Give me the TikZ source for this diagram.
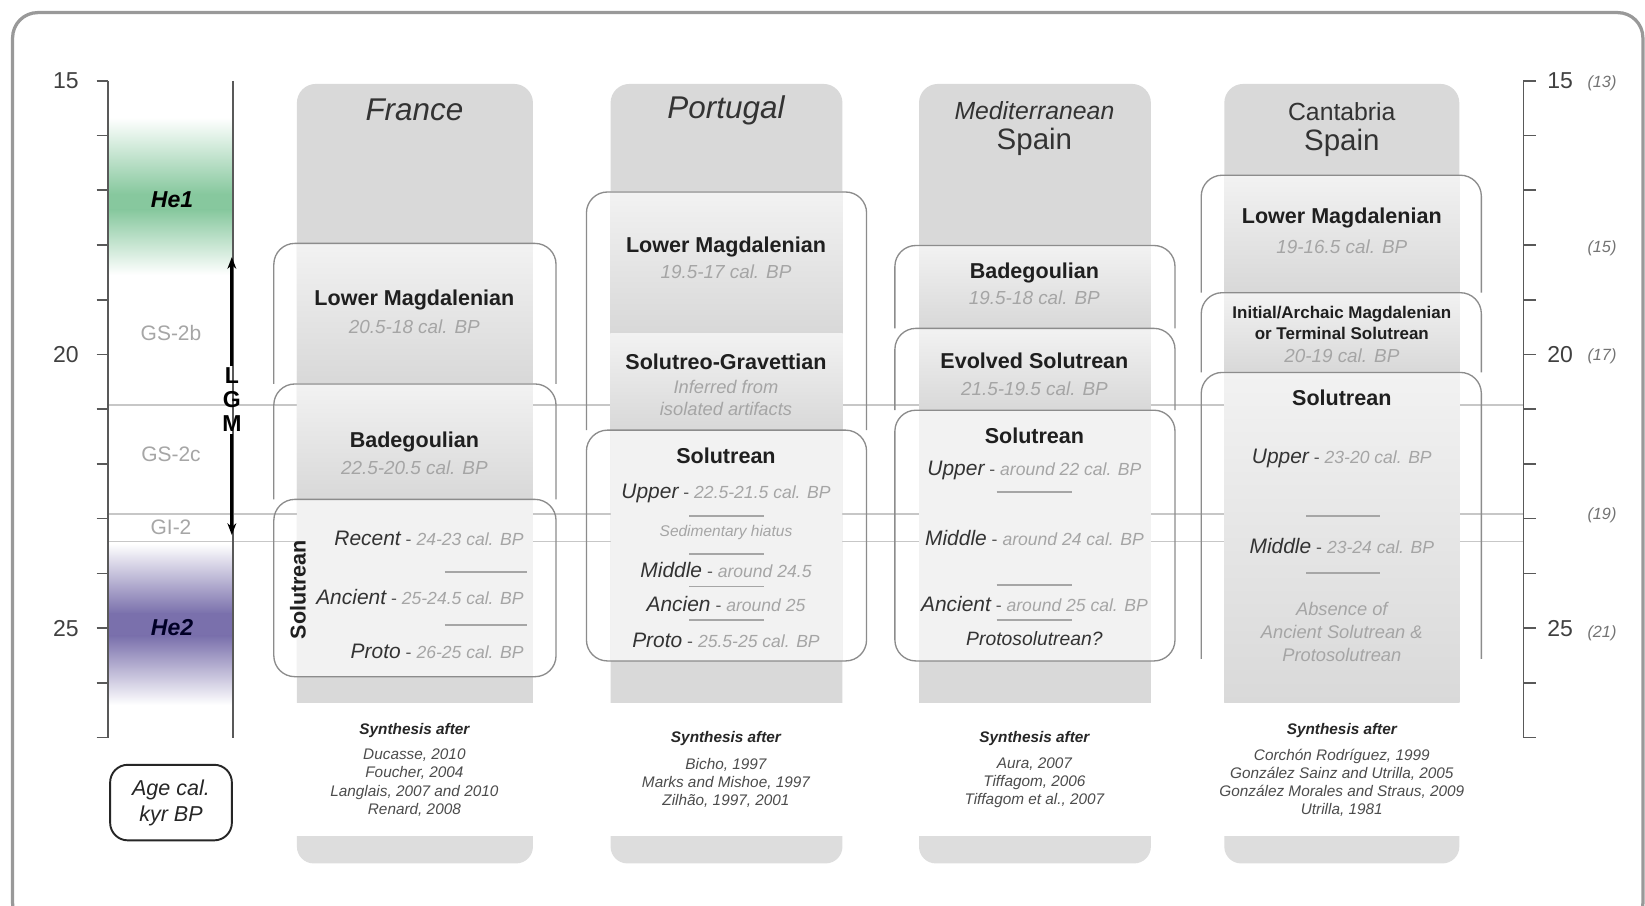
\documentclass[tikz,border=0pt]{standalone}
\usepackage{fontspec}
\setmainfont{Liberation Sans}
\usetikzlibrary{arrows.meta}
\definecolor{colgray}{RGB}{217,217,217}
\definecolor{boxlight}{RGB}{242,242,242}
\definecolor{boxdark}{RGB}{216,216,216}
\definecolor{outl}{RGB}{140,140,140}
\definecolor{datec}{RGB}{165,165,165}
\definecolor{hgreen}{RGB}{135,200,158}
\definecolor{hpurple}{RGB}{122,112,172}
\newcommand{\myfs}[2]{\fontsize{#1pt}{#2pt}\selectfont}
\newcommand{\sublab}[2]{{\itshape\myfs{14.2}{16}\color{black!80}#1}{\myfs{12}{14}\color{black!65}\ -\ }{\itshape\myfs{11.9}{14}\color{datec}#2}}
\newcommand{\colbg}[2]{%
 \begin{scope}\clip (#1,80) rectangle (#2,670);
 \fill[colgray, rounded corners=0.45cm] (#1,80) rectangle (#2,720);\end{scope}
 \begin{scope}\clip (#1,797) rectangle (#2,823);
 \fill[colgray!90!white, rounded corners=0.4cm] (#1,760) rectangle (#2,823);\end{scope}}
\begin{document}
\begin{tikzpicture}[x=0.025cm,y=-0.025cm,
  hd/.style={font=\bfseries\myfs{14.6}{17}, text=black!88},
  hdsmall/.style={font=\bfseries\myfs{11.5}{14}, text=black!88},
  dt/.style={font=\itshape\myfs{12.8}{15}, text=datec},
  ttl/.style={font=\itshape\myfs{21.3}{24}, text=black!80},
  outline/.style={draw=outl, line width=0.9pt, rounded corners=0.5cm},
  sep/.style={draw=black!35, line width=1.3pt},
  refs/.style={align=center, font=\itshape\myfs{10.4}{12.3}, text=black!70},
  synth/.style={font=\bfseries\itshape\myfs{10.4}{12}, text=black!85},
  gs/.style={font=\myfs{14.2}{16}, text=black!35},
  he/.style={font=\bfseries\itshape\myfs{15.6}{18}},
  ax/.style={draw=black!65, line width=1.1pt},
  hl/.style={draw=black!22, line width=0.9pt},
  axlab/.style={font=\myfs{15.6}{18}, text=black!75},
  c14/.style={font=\itshape\myfs{11}{13}, text=black!55},
  lgm/.style={font=\bfseries\myfs{15.6}{16}, inner sep=1pt},
  greytxt/.style={font=\itshape\myfs{12.4}{15}, text=datec},
]
\useasboundingbox (0,0) rectangle (1568,863);
\clip (0,0) rectangle (1568,863);
\fill[white] (0,0) rectangle (1568,863);
% frame
\draw[black!40, line width=2.2pt, rounded corners=0.6cm] (12,12) rectangle (1566,885);

% climate bands
\shade[top color=white, bottom color=hgreen] (104,112) rectangle (221,185);
\fill[hgreen] (104,184.5) rectangle (221,200.5);
\shade[top color=hgreen, bottom color=white] (104,200) rectangle (221,262);
\shade[top color=white, bottom color=hpurple] (104,518) rectangle (221,585);
\fill[hpurple] (104,584.5) rectangle (221,606.5);
\shade[top color=hpurple, bottom color=white] (104,606) rectangle (221,672);

% horizontal boundaries
\draw[hl] (103,386) -- (1452,386);
\draw[hl] (103,490) -- (1452,490);
\draw[hl] (103,516) -- (1452,516);

% left axis
\draw[ax] (103,77) -- (103,703);
\foreach \k in {0,...,12} \draw[ax] (92,{77+52.17*\k}) -- (103,{77+52.17*\k});
\node[axlab, anchor=east] (l15) at (80,77) {15};
\node[axlab, anchor=east] (l20) at (80,338) {20};
\node[axlab, anchor=east] (l25) at (80,599) {25};
% LGM line
\draw[ax] (222,77) -- (222,703);

% right axis
\draw[ax] (1452,77) -- (1452,703);
\foreach \k in {0,...,12} \draw[ax] (1452,{77+52.17*\k}) -- (1464,{77+52.17*\k});
\node[axlab, anchor=west] (r15) at (1470,77) {15};
\node[axlab, anchor=west] (r20) at (1470,338) {20};
\node[axlab, anchor=west] (r25) at (1470,599) {25};
\node[c14] (c13) at (1527,79) {(13)};
\node[c14] (c15) at (1527,237) {(15)};
\node[c14] (c17) at (1527,340) {(17)};
\node[c14] (c19) at (1527,491) {(19)};
\node[c14] (c21) at (1527,604) {(21)};

% climate labels
\node[he, text=black] (he1) at (164,190) {He1};
\node[gs] (gs2b) at (163,317) {GS-2b};
\node[gs] (gs2c) at (163,433) {GS-2c};
\node[gs] (gi2) at (163,503) {GI-2};
\node[he, text=black!85!blue] (he2) at (164,598) {He2};

% LGM arrow
\node[lgm] (L) at (221,358) {L};
\node[lgm] (G) at (221,381) {G};
\node[lgm] (M) at (221,404) {M};
\coordinate (lgmtop) at (221,245);
\coordinate (lgmbot) at (221,510);
\draw[line width=2.2pt, -{Stealth[length=8pt,width=6pt]}] (L.north) -- (lgmtop);
\draw[line width=2.2pt, -{Stealth[length=8pt,width=6pt]}] (M.south) -- (lgmbot);

% age box
\node[draw=black!85, line width=1.3pt, rounded corners=0.42cm, minimum width=2.9cm, minimum height=1.8cm, align=center, font=\itshape\myfs{14.6}{17.8}, text=black!85] (age) at (163,765) {Age cal.\\kyr BP};

% ===== France =====
\colbg{283}{508}
\shade[top color=boxlight, bottom color=boxdark] (283,232) rectangle (508,366);
\draw[outline] (261,366) -- (261,232) -- (530,232) -- (530,366);
\shade[top color=boxlight, bottom color=boxdark] (283,366) rectangle (508,476);
\draw[outline] (261,476) -- (261,366) -- (530,366) -- (530,476);
\fill[boxlight] (283,476) rectangle (508,645);
\draw[outline] (261,476) rectangle (530,645);
\node[ttl] (fr) at (395,105) {France};
\node[hd] (frlm) at (395,286) {Lower Magdalenian};
\node[dt] (frlmd) at (395,311) {20.5-18 cal. BP};
\node[hd] (frbd) at (395,421) {Badegoulian};
\node[dt] (frbdd) at (395,446) {22.5-20.5 cal. BP};
\node[hd, rotate=90] (frsol) at (284,562) {Solutrean};
\node[anchor=east] (frrec) at (504,513) {\sublab{Recent}{24-23 cal. BP}};
\draw[sep] (424,545) -- (502,545);
\node[anchor=east] (franc) at (504,569) {\sublab{Ancient}{25-24.5 cal. BP}};
\draw[sep] (424,596) -- (502,596);
\node[anchor=east] (frpro) at (504,621) {\sublab{Proto}{26-25 cal. BP}};
\node[synth] (frsy) at (395,696) {Synthesis after};
\node[refs] (frrefs) at (395,746) {Ducasse, 2010\\Foucher, 2004\\Langlais, 2007 and 2010\\Renard, 2008};

% ===== Portugal =====
\colbg{582}{803}
\shade[top color=boxlight, bottom color=boxdark] (582,183) rectangle (803,318);
\shade[top color=boxlight, bottom color=boxdark] (582,318) rectangle (803,410);
\draw[outline] (559,410) -- (559,183) -- (826,183) -- (826,410);
\fill[boxlight] (582,410) rectangle (803,630);
\draw[outline] (559,410) rectangle (826,630);
\node[ttl] (pt) at (692,105) {Portugal};
\node[hd] (ptlm) at (692,235) {Lower Magdalenian};
\node[dt] (ptlmd) at (692,259) {19.5-17 cal. BP};
\node[hd] (ptsg) at (692,345) {Solutreo-Gravettian};
\node[greytxt, align=center, font=\itshape\myfs{12.4}{14.8}] (ptsgd) at (692,379) {Inferred from\\isolated artifacts};
\node[hd] (ptsol) at (692,434) {Solutrean};
\node (ptup) at (692,470) {\sublab{Upper}{22.5-21.5 cal. BP}};
\draw[sep] (657,492) -- (728,492);
\node[font=\itshape\myfs{10.5}{12}, text=datec] (pthi) at (692,508) {Sedimentary hiatus};
\draw[sep] (657,528) -- (728,528);
\node (ptmid) at (692,543) {\sublab{Middle}{around 24.5}};
\draw[sep] (657,559) -- (728,559);
\node (ptanc) at (692,576) {\sublab{Ancien}{around 25}};
\draw[sep] (657,591) -- (728,591);
\node (ptpro) at (692,610) {\sublab{Proto}{25.5-25 cal. BP}};
\node[synth] (ptsy) at (692,704) {Synthesis after};
\node[refs] (ptrefs) at (692,746) {Bicho, 1997\\Marks and Mishoe, 1997\\Zilhão, 1997, 2001};

% ===== Mediterranean Spain =====
\colbg{876}{1097}
\shade[top color=boxlight, bottom color=boxdark] (876,234) rectangle (1097,313);
\draw[outline] (853,313) -- (853,234) -- (1120,234) -- (1120,313);
\shade[top color=boxlight, bottom color=boxdark] (876,313) rectangle (1097,391);
\draw[outline] (853,391) -- (853,313) -- (1120,313) -- (1120,391);
\fill[boxlight] (876,391) rectangle (1097,630);
\draw[outline] (853,391) rectangle (1120,630);
\node[font=\itshape\myfs{16.8}{19}, text=black!80, inner sep=0pt] (medt) at (986,105) {Mediterranean};
\node[font=\myfs{20}{22}, text=black!80, inner sep=0pt] (meds) at (986,135) {Spain};
\node[hd] (medbd) at (986,260) {Badegoulian};
\node[dt] (medbdd) at (986,284) {19.5-18 cal. BP};
\node[hd] (medev) at (986,344) {Evolved Solutrean};
\node[dt] (medevd) at (986,371) {21.5-19.5 cal. BP};
\node[hd] (medsol) at (986,415) {Solutrean};
\node (medup) at (986,448) {\sublab{Upper}{around 22 cal. BP}};
\draw[sep] (950,469) -- (1022,469);
\node (medmid) at (986,513) {\sublab{Middle}{around 24 cal. BP}};
\draw[sep] (950,558) -- (1022,558);
\node (medanc) at (986,576) {\sublab{Ancient}{around 25 cal. BP}};
\draw[sep] (950,591) -- (1022,591);
\node[font=\itshape\myfs{13.1}{15}, text=black!80] (medpro) at (986,609) {Protosolutrean?};
\node[synth] (medsy) at (986,704) {Synthesis after};
\node[refs] (medrefs) at (986,746) {Aura, 2007\\Tiffagom, 2006\\Tiffagom et al., 2007};

% ===== Cantabria Spain =====
\colbg{1167}{1391}
\shade[top color=boxlight, bottom color=boxdark] (1167,167) rectangle (1391,279);
\draw[outline] (1145,279) -- (1145,167) -- (1412,167) -- (1412,279);
\shade[top color=boxlight, bottom color=boxdark] (1167,279) rectangle (1391,355);
\draw[outline] (1145,355) -- (1145,279) -- (1412,279) -- (1412,355);
\shade[top color=boxlight, middle color=boxlight!75!colgray, bottom color=colgray] (1167,355) rectangle (1391,670);
\draw[outline] (1145,628) -- (1145,355) -- (1412,355) -- (1412,628);
\node[font=\myfs{16.8}{19}, text=black!80, inner sep=0pt] (cant) at (1279,106) {Cantabria};
\node[font=\myfs{20}{22}, text=black!80, inner sep=0pt] (cans) at (1279,136) {Spain};
\node[hd] (canlm) at (1279,208) {Lower Magdalenian};
\node[dt] (canlmd) at (1279,235) {19-16.5 cal. BP};
\node[hdsmall, align=center] (canin) at (1279,308) {Initial/Archaic Magdalenian\\or Terminal Solutrean};
\node[dt] (canind) at (1279,339) {20-19 cal. BP};
\node[hd] (cansol) at (1279,379) {Solutrean};
\node (canup) at (1279,437) {\sublab{Upper}{23-20 cal. BP}};
\draw[sep] (1245,492) -- (1315,492);
\node (canmid) at (1279,520) {\sublab{Middle}{23-24 cal. BP}};
\draw[sep] (1245,546) -- (1315,546);
\node[greytxt, align=center, font=\itshape\myfs{12.4}{15.6}] (canabs) at (1279,602) {Absence of\\Ancient Solutrean \&\\Protosolutrean};
\node[synth] (cansy) at (1279,696) {Synthesis after};
\node[refs] (canrefs) at (1279,746) {Corchón Rodríguez, 1999\\González Sainz and Utrilla, 2005\\González Morales and Straus, 2009\\Utrilla, 1981};
\end{tikzpicture}
\end{document}
